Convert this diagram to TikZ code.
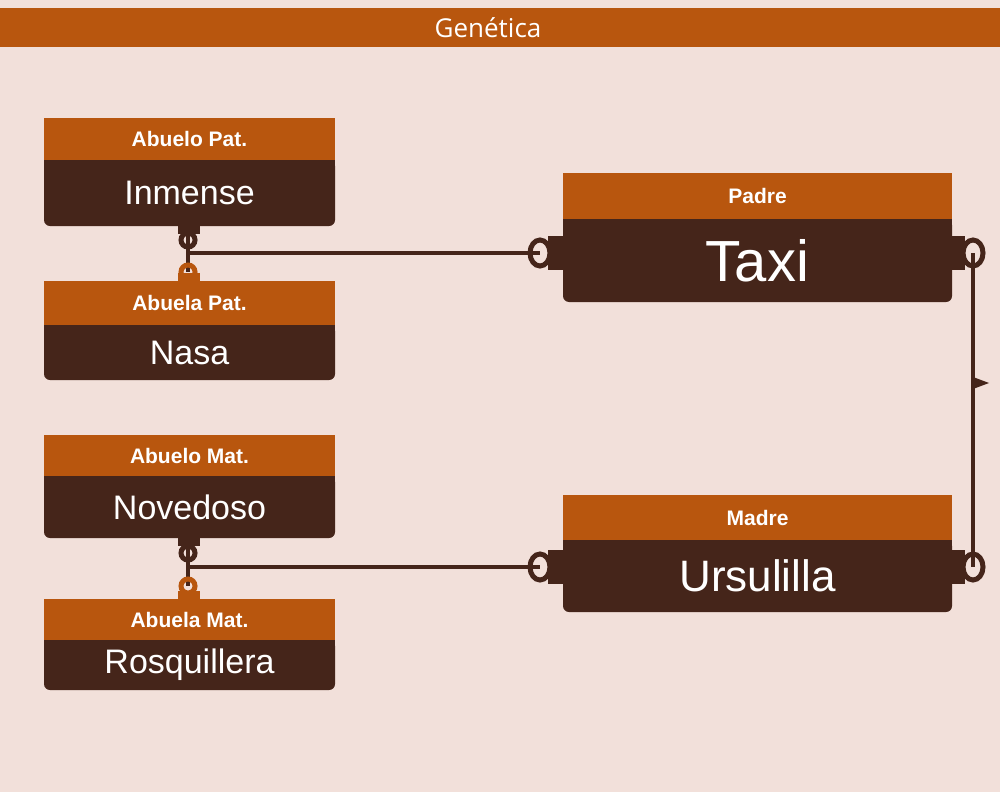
\documentclass[tikz,border=0pt]{standalone}
\usepackage{fontspec}
\setmainfont{Liberation Sans}
\newfontfamily\titlefont{Open Sans}
\usetikzlibrary{positioning}
\definecolor{bgpink}{HTML}{F2E0DA}
\definecolor{rust}{HTML}{B8560E}
\definecolor{darkbrown}{HTML}{45251A}

\begin{document}
\begin{tikzpicture}[x=1pt,y=-1pt,
    head/.style={fill=rust, draw=none, text=white, font=\bfseries\fontsize{21}{21}\selectfont},
    link/.style={draw=darkbrown, line width=3.5pt},
    ring/.style={line width=5pt},
  ]

    % background and title
    \fill[bgpink] (0,0) rectangle (1000,792);
    \fill[rust] (0,8) rectangle (1000,47);
    \node[text=white, font=\titlefont\fontsize{26}{26}\selectfont] (title) at (488,28) {Genética};

    % boxes: x1, x2, header top, body top, bottom, name, header text, size
    \foreach \nm/\xa/\xb/\ya/\yb/\yc/\hd/\tx/\sz in {
        ap/44/335/118/160/226/Abuelo Pat./Inmense/34,
        bp/44/335/281/325/380/Abuela Pat./Nasa/34,
        am/44/335/435/476/538/Abuelo Mat./Novedoso/34,
        bm/44/335/599/640/690/Abuela Mat./Rosquillera/34,
        pa/563/952/173/219/302/Padre/Taxi/58,
        ma/563/952/495/540/612/Madre/Ursulilla/44}
    {
        \fill[darkbrown, rounded corners=6pt] (\xa,\yb) rectangle (\xb,\yc);
        \fill[darkbrown] (\xa,\yb) rectangle (\xb,\yb+10);
        \fill[rust] (\xa,\ya) rectangle (\xb,\yb);
        \node[head] (\nm-h) at ({(\xa+\xb)/2},{(\ya+\yb)/2}) {\hd};
        \node[text=white, font=\fontsize{\sz}{\sz}\selectfont] (\nm-b) at ({(\xa+\xb)/2},{(\yb+\yc)/2}) {\tx};
    }

    % tabs
    \fill[darkbrown] (178,226) rectangle (200,234);
    \fill[rust] (178,273) rectangle (200,281);
    \fill[darkbrown] (178,538) rectangle (200,546);
    \fill[rust] (178,591) rectangle (200,599);
    \foreach \y in {253,567} {
        \fill[darkbrown] (548,\y-17) rectangle (563,\y+17);
        \fill[darkbrown] (952,\y-17) rectangle (965,\y+17);
    }

    % connection points
    \coordinate (ap-c) at (188,240);
    \coordinate (bp-c) at (188,272);
    \coordinate (am-c) at (188,553);
    \coordinate (bm-c) at (188,586);
    \coordinate (pa-l) at (540,253);
    \coordinate (pa-r) at (973,253);
    \coordinate (ma-l) at (540,567);
    \coordinate (ma-r) at (973,567);

    % connectors
    \draw[link] (ap-c) -- (bp-c);
    \draw[link] (188,253) -- (pa-l);
    \draw[link] (am-c) -- (bm-c);
    \draw[link] (188,567) -- (ma-l);
    \draw[link] (pa-r) -- (ma-r);
    \fill[darkbrown] (973,377) -- (989,383) -- (973,389) -- cycle;

    % rings
    \draw[ring, darkbrown] (ap-c) circle (7);
    \draw[ring, rust] (bp-c) circle (7);
    \draw[ring, darkbrown] (am-c) circle (7);
    \draw[ring, rust] (bm-c) circle (7);
    \foreach \c in {pa-l,pa-r,ma-l,ma-r}
        \draw[ring, darkbrown] (\c) ellipse (10 and 13);
    \draw[link] (188,232) -- (188,247);
    \draw[link] (188,546) -- (188,560);

\end{tikzpicture}
\end{document}
